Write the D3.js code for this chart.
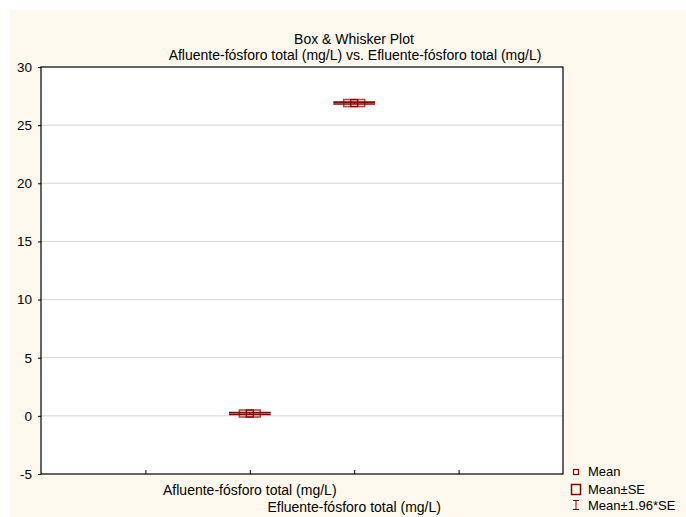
<!DOCTYPE html>
<html>
<head>
<meta charset="utf-8">
<script src="https://cdn.jsdelivr.net/npm/d3@7"></script>
<style>
  body { margin: 0; background: #fff; }
  text { font-family: "Liberation Sans", Arial, sans-serif; font-size: 14px; fill: #000; }
</style>
</head>
<body>
<script>
// variables and summary values
var categories = ["Afluente-fósforo total (mg/L)", "Efluente-fósforo total (mg/L)"];
var means = [0.2, 26.9];
var stdErr = [0.04, 0.04];
var yTicks = [-5, 0, 5, 10, 15, 20, 25, 30];
var legendItems = ["Mean", "Mean±SE", "Mean±1.96*SE"];

var W = 686, H = 517;
var margin = {top: 67, right: 123, bottom: 43, left: 41};
var width = W - margin.left - margin.right;
var height = H - margin.top - margin.bottom;
var red = "#8b0000";

var svg = d3.select("body").append("svg")
  .attr("width", W)
  .attr("height", H);

// cream panel
svg.append("rect")
  .attr("x", 10).attr("y", 10)
  .attr("width", W - 10).attr("height", H - 10)
  .attr("fill", "#fef9ee");

svg.append("text")
  .attr("x", 354).attr("y", 44)
  .attr("text-anchor", "middle")
  .text("Box & Whisker Plot");
svg.append("text")
  .attr("x", 355).attr("y", 60)
  .attr("text-anchor", "middle")
  .text(categories[0] + " vs. " + categories[1]);

var g = svg.append("g")
  .attr("transform", "translate(" + margin.left + "," + margin.top + ")");

g.append("rect")
  .attr("width", width).attr("height", height)
  .attr("fill", "#fff");

// empty slots on either side, like the original layout
var slots = ["_a"].concat(categories, ["_b"]);
var x = d3.scalePoint().domain(slots).range([0, width]).padding(1);
var step = x.step();

var y = d3.scaleLinear().domain([-5, 30]).range([height, 0]);

// grid
g.append("g").selectAll("line")
  .data(yTicks.filter(function(d) { return d > -5 && d < 30; }))
  .join("line")
  .attr("x1", 0).attr("x2", width)
  .attr("y1", function(d) { return y(d); })
  .attr("y2", function(d) { return y(d); })
  .attr("stroke", "#d6d6d6");

// frame
g.append("rect")
  .attr("width", width).attr("height", height)
  .attr("fill", "none")
  .attr("stroke", "#000")
  .attr("stroke-width", 1.2);

var yAxis = g.append("g")
  .call(d3.axisLeft(y).tickValues(yTicks).tickSize(3).tickPadding(6)
    .tickFormat(function(d) { return String(d); }));
yAxis.select(".domain").remove();
yAxis.selectAll("text").style("font-size", "13.5px");

var xAxis = g.append("g")
  .attr("transform", "translate(0," + height + ")")
  .call(d3.axisBottom(x).tickSize(-4).tickFormat(""));
xAxis.select(".domain").remove();

// staggered category labels
g.selectAll(".xlab")
  .data(categories)
  .join("text")
  .attr("class", "xlab")
  .attr("x", function(d) { return x(d); })
  .attr("y", function(d, i) { return height + 21 + i * 17; })
  .attr("text-anchor", "middle")
  .text(function(d) { return d; });

// boxes
var boxW = step * 0.2, capW = step * 0.4, markS = 7, minBoxH = 7;
var data = categories.map(function(c, i) {
  return {cat: c, mean: means[i], se: stdErr[i]};
});

var marks = g.selectAll(".mark")
  .data(data)
  .join("g")
  .attr("class", "mark")
  .attr("transform", function(d) { return "translate(" + x(d.cat) + ",0)"; });

// whiskers: mean ± 1.96*SE
marks.append("line")
  .attr("x1", 0).attr("x2", 0)
  .attr("y1", function(d) { return y(d.mean + 1.96 * d.se); })
  .attr("y2", function(d) { return y(d.mean - 1.96 * d.se); })
  .attr("stroke", red).attr("stroke-width", 1.2);
[1.96, -1.96].forEach(function(k) {
  marks.append("line")
    .attr("x1", -capW / 2).attr("x2", capW / 2)
    .attr("y1", function(d) { return y(d.mean + k * d.se); })
    .attr("y2", function(d) { return y(d.mean + k * d.se); })
    .attr("stroke", red).attr("stroke-width", 1.6);
});

// box: mean ± SE
marks.append("rect")
  .attr("x", -boxW / 2)
  .attr("width", boxW)
  .attr("y", function(d) {
    var h = Math.max(y(d.mean - d.se) - y(d.mean + d.se), minBoxH);
    return y(d.mean) - h / 2;
  })
  .attr("height", function(d) {
    return Math.max(y(d.mean - d.se) - y(d.mean + d.se), minBoxH);
  })
  .attr("fill", "none")
  .attr("stroke", red).attr("stroke-width", 1.6)
  .attr("opacity", 0.7);

// mean marker
marks.append("rect")
  .attr("x", -markS / 2)
  .attr("y", function(d) { return y(d.mean) - markS / 2; })
  .attr("width", markS).attr("height", markS)
  .attr("fill", "none")
  .attr("stroke", red).attr("stroke-width", 1.3);

// legend
var lg = svg.append("g").attr("transform", "translate(576,0)");
lg.append("rect")
  .attr("x", -2.5).attr("y", 469.5).attr("width", 5).attr("height", 5)
  .attr("fill", "none").attr("stroke", red).attr("stroke-width", 1.2);
lg.append("rect")
  .attr("x", -4.5).attr("y", 484.5).attr("width", 9).attr("height", 10)
  .attr("fill", "none").attr("stroke", red).attr("stroke-width", 1.5);
lg.append("path")
  .attr("d", "M-3,500.5H3M0,500.5V509.5M-3,509.5H3")
  .attr("fill", "none").attr("stroke", red).attr("stroke-width", 1);
lg.selectAll(".lt")
  .data(legendItems)
  .join("text")
  .attr("class", "lt")
  .attr("x", 12)
  .attr("y", function(d, i) { return [476, 494, 510][i]; })
  .style("font-size", "13px")
  .text(function(d) { return d; });
</script>
</body>
</html>
